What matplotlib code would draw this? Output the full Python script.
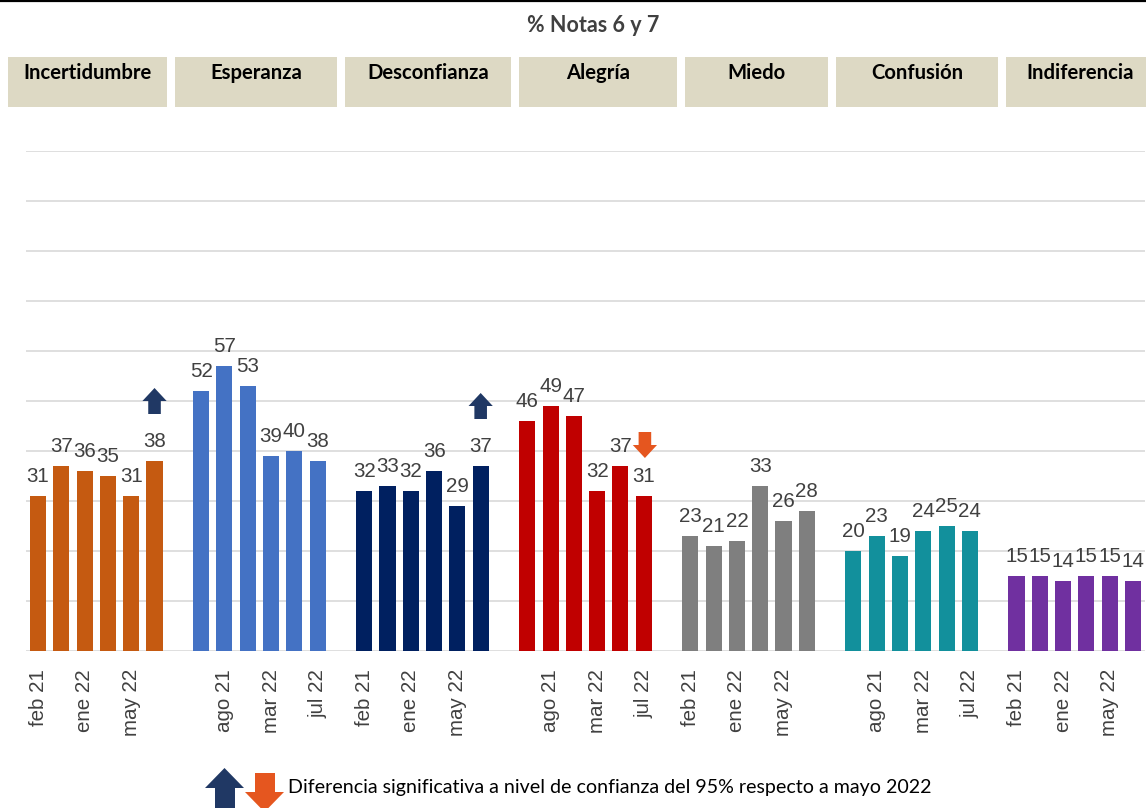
import matplotlib
matplotlib.use("Agg")
import matplotlib.pyplot as plt
from matplotlib.patches import Polygon, Rectangle
from matplotlib.lines import Line2D

# ---------------- data ----------------
emotions = ["Incertidumbre", "Esperanza", "Desconfianza", "Alegría", "Miedo", "Confusión", "Indiferencia"]
periods = ["feb 21", "ago 21", "ene 22", "mar 22", "may 22", "jul 22"]

incertidumbre = [31, 37, 36, 35, 31, 38]
esperanza = [52, 57, 53, 39, 40, 38]
desconfianza = [32, 33, 32, 36, 29, 37]
alegria = [46, 49, 47, 32, 37, 31]
miedo = [23, 21, 22, 33, 26, 28]
confusion = [20, 23, 19, 24, 25, 24]
indiferencia = [15, 15, 14, 15, 15, 14]

series = [incertidumbre, esperanza, desconfianza, alegria, miedo, confusion, indiferencia]
colors = ["#C55A11", "#4472C4", "#002060", "#C00000", "#7F7F7F", "#12909C", "#7030A0"]

# significance flags: (emotion index, period index, direction)
flags = [(0, 5, "up"), (2, 5, "up"), (3, 5, "down")]

title = "% Notas 6 y 7"
legend_text = "Diferencia significativa a nivel de confianza del 95% respecto a mayo 2022"

# ---------------- layout helpers ----------------
W, H = 1146, 808
fig = plt.figure(figsize=(W / 100, H / 100), dpi=100)


def fx(x):
    return x / W


def fy(y):
    return 1 - y / H


NAVY = "#203864"
ORANGE = "#E5561F"
GRAY_TXT = "#404040"

# top rule
fig.add_artist(Line2D([0, 1], [fy(1), fy(1)], color="black", lw=1.6, transform=fig.transFigure))

# title
fig.text(fx(593), fy(26), title, ha="center", va="center", fontsize=15.5,
         fontweight="bold", color=GRAY_TXT, family="Lato")

# header boxes
box_edges = [(8, 167), (175, 337), (345, 511), (519, 677), (685, 828), (836, 998), (1006, 1150)]
for (x0, x1), name in zip(box_edges, emotions):
    fig.add_artist(Rectangle((fx(x0), fy(107)), fx(x1) - fx(x0), fy(57) - fy(107),
                             transform=fig.transFigure, facecolor="#DDD9C4", edgecolor="none"))
    cx = (x0 + x1) / 2 if x1 < 1146 else (x0 + 1146 + 8) / 2
    fig.text(fx(cx), fy(73), name, ha="center", va="center", fontsize=14.6,
             fontweight="bold", color="black", family="Lato")

# ---------------- chart ----------------
ax = fig.add_axes([fx(26.4), fy(651), fx(1144.6) - fx(26.4), fy(151) - fy(651)])
ax.set_xlim(-0.5, 47.5)
ax.set_ylim(0, 100)

n = len(periods)
xticks, xlabels = [], []
positions = {}
for g, (vals, col) in enumerate(zip(series, colors)):
    xs = [g * (n + 1) + j for j in range(n)]
    ax.bar(xs, vals, width=0.69, color=col, zorder=3)
    for j, (x, v) in enumerate(zip(xs, vals)):
        positions[(g, j)] = (x, v)
        ax.annotate(str(v), (x, v), xytext=(0, 7.5), textcoords="offset points",
                    ha="center", va="bottom", fontsize=14.8, color=GRAY_TXT,
                    family="Liberation Sans", zorder=4)
        if x % 2 == 0:
            xticks.append(x)
            xlabels.append(periods[j])

ax.set_xticks(xticks)
ax.set_xticklabels(xlabels, rotation=90, fontsize=14.8, color=GRAY_TXT,
                   family="Liberation Sans", va="top")
ax.tick_params(axis="x", length=0, pad=13)
ax.set_yticks(range(0, 101, 10))
ax.tick_params(axis="y", length=0, labelleft=False)
ax.grid(axis="y", color="#D9D9D9", lw=1.2, zorder=0)
for s in ax.spines.values():
    s.set_visible(False)

# significance arrows (in data units, relative to the flagged bar)
hw, sw, hh, sh = 0.52, 0.27, 2.6, 2.6  # half head width, half shaft width, head h, shaft h


def arrow_poly(xc, ybase, direction):
    if direction == "up":
        pts = [(xc - sw, ybase), (xc + sw, ybase), (xc + sw, ybase + sh),
               (xc + hw, ybase + sh), (xc, ybase + sh + hh), (xc - hw, ybase + sh),
               (xc - sw, ybase + sh)]
    else:
        top = ybase + sh + hh
        pts = [(xc - sw, top), (xc + sw, top), (xc + sw, top - sh),
               (xc + hw, top - sh), (xc, ybase), (xc - hw, top - sh),
               (xc - sw, top - sh)]
    return pts


for g, j, d in flags:
    x, v = positions[(g, j)]
    if d == "up":
        ax.add_patch(Polygon(arrow_poly(x, v + 9.4, "up"), closed=True,
                             facecolor=NAVY, edgecolor="none", zorder=5))
    else:
        ax.add_patch(Polygon(arrow_poly(x + 0.05, v + 7.6, "down"), closed=True,
                             facecolor=ORANGE, edgecolor="none", zorder=5))

# ---------------- legend at bottom ----------------
up_px = [(215, 810), (235, 810), (235, 788), (244, 788), (224.5, 768), (205, 788), (215, 788)]
dn_px = [(255, 773), (275, 773), (275, 792), (284, 792), (264.5, 812), (245, 792), (255, 792)]
fig.add_artist(Polygon([(fx(a), fy(b)) for a, b in up_px], closed=True, transform=fig.transFigure,
                       facecolor=NAVY, edgecolor="none"))
fig.add_artist(Polygon([(fx(a), fy(b)) for a, b in dn_px], closed=True, transform=fig.transFigure,
                       facecolor=ORANGE, edgecolor="none"))
fig.text(fx(288), fy(788), legend_text, ha="left", va="center", fontsize=14.1,
         color="black", family="Lato")

fig.savefig("out.png", dpi=100)
